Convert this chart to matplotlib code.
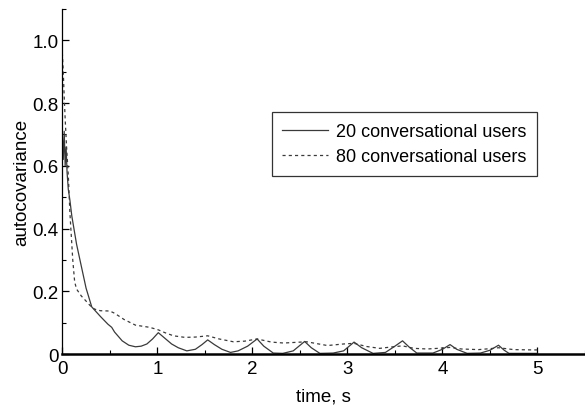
import matplotlib
matplotlib.use("Agg")
import matplotlib.pyplot as plt
from matplotlib.ticker import MultipleLocator, FixedLocator, FixedFormatter

plt.rcParams["font.family"] = ["Liberation Sans", "DejaVu Sans"]

# 20 conversational users (solid)
t20 = [0.0, 0.01, 0.02, 0.03, 0.04, 0.05, 0.063, 0.08, 0.1, 0.15, 0.2, 0.25, 0.31, 0.4,
       0.48, 0.52, 0.55, 0.63, 0.7, 0.77, 0.83, 0.89, 0.95, 1.01, 1.08, 1.15, 1.22, 1.31,
       1.4, 1.47, 1.53, 1.6, 1.68, 1.77, 1.85, 1.95, 2.05, 2.12, 2.22, 2.32, 2.43, 2.55,
       2.62, 2.71, 2.85, 2.96, 3.07, 3.15, 3.27, 3.4, 3.5, 3.58, 3.65, 3.73, 3.9, 4.0,
       4.08, 4.15, 4.26, 4.4, 4.5, 4.59, 4.65, 4.7, 5.0]
acov20 = [0.70, 0.62, 0.71, 0.60, 0.66, 0.58, 0.525, 0.49, 0.44, 0.35, 0.28, 0.21, 0.15, 0.12,
          0.095, 0.085, 0.07, 0.042, 0.028, 0.023, 0.025, 0.032, 0.048, 0.068, 0.05, 0.032, 0.02, 0.01,
          0.015, 0.03, 0.045, 0.03, 0.015, 0.005, 0.01, 0.025, 0.048, 0.025, 0.003, 0.002, 0.01, 0.04,
          0.02, 0.002, 0.003, 0.01, 0.038, 0.02, 0.002, 0.005, 0.025, 0.042, 0.022, 0.003, 0.003, 0.015,
          0.03, 0.015, 0.002, 0.003, 0.012, 0.028, 0.012, 0.002, 0.002]

# 80 conversational users (dashed)
t80 = [0.0, 0.01, 0.02, 0.03, 0.045, 0.063, 0.08, 0.092, 0.11, 0.13, 0.15, 0.2, 0.24, 0.3,
       0.34, 0.4, 0.5, 0.55, 0.65, 0.77, 0.92, 1.01, 1.08, 1.17, 1.29, 1.4, 1.53, 1.65,
       1.8, 1.92, 2.05, 2.2, 2.33, 2.45, 2.57, 2.79, 2.96, 3.07, 3.2, 3.34, 3.45, 3.58,
       3.7, 3.84, 3.95, 4.08, 4.2, 4.38, 4.5, 4.59, 4.75, 4.96, 5.0]
acov80 = [0.96, 0.90, 0.82, 0.75, 0.66, 0.57, 0.45, 0.39, 0.30, 0.23, 0.207, 0.185, 0.172, 0.152,
          0.143, 0.138, 0.137, 0.13, 0.11, 0.092, 0.085, 0.077, 0.068, 0.058, 0.053, 0.054, 0.058, 0.048,
          0.039, 0.041, 0.048, 0.038, 0.035, 0.037, 0.039, 0.027, 0.032, 0.034, 0.024, 0.018, 0.022, 0.026,
          0.018, 0.016, 0.018, 0.021, 0.016, 0.014, 0.017, 0.02, 0.014, 0.013, 0.013]

ytick_vals = [0, 0.2, 0.4, 0.6, 0.8, 1.0]
ytick_labels = ["0", "0.2", "0.4", "0.6", "0.8", "1.0"]
xtick_vals = [0, 1, 2, 3, 4, 5]

fig = plt.figure(figsize=(5.85, 4.06), dpi=100)
ax = fig.add_axes([0.1065, 0.1256, 0.8935, 0.85])

ax.plot(t20, acov20, color="#3a3a3a", lw=0.9, label="20 conversational users")
ax.plot(t80, acov80, color="#3a3a3a", lw=0.9, dashes=(2.5, 2.5), label="80 conversational users")

ax.set_xlim(0, 5.5)
ax.set_ylim(0, 1.1)
ax.yaxis.set_major_locator(FixedLocator(ytick_vals))
ax.yaxis.set_major_formatter(FixedFormatter(ytick_labels))
ax.yaxis.set_minor_locator(MultipleLocator(0.1))
ax.xaxis.set_major_locator(FixedLocator(xtick_vals))
ax.xaxis.set_minor_locator(MultipleLocator(0.5))

for s in ["top", "right"]:
    ax.spines[s].set_visible(False)
ax.spines["left"].set_linewidth(0.9)
ax.spines["bottom"].set_linewidth(1.8)

ax.tick_params(which="major", direction="in", length=5, width=0.9, labelsize=13.5)
ax.tick_params(axis="y", which="major", pad=2.5)
ax.tick_params(axis="x", which="major", pad=4.5)
ax.tick_params(which="minor", direction="in", length=3, width=0.8)

ax.set_ylabel("autocovariance", fontsize=13.5)
ax.yaxis.set_label_coords(-0.062, 0.5)
ax.set_xlabel("time, s", fontsize=13.5)
ax.xaxis.set_label_coords(0.5, -0.098)

leg = ax.legend(loc="upper right", bbox_to_anchor=(0.908, 0.701), fontsize=13,
                frameon=True, fancybox=False, handlelength=2.5, handletextpad=0.45,
                borderpad=0.6, labelspacing=0.45, borderaxespad=0)
leg.get_frame().set_edgecolor("black")
leg.get_frame().set_linewidth(0.9)

fig.savefig("out.png", dpi=100)
